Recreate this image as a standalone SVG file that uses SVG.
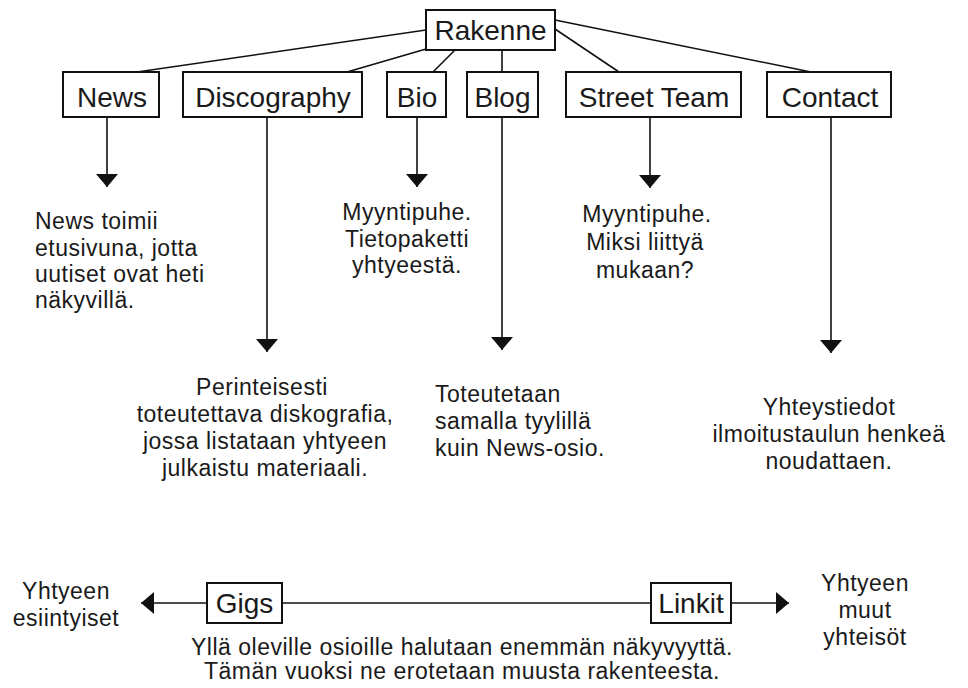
<svg xmlns="http://www.w3.org/2000/svg" width="968" height="688" viewBox="0 0 968 688">
  <style>
    .box { fill: #ffffff; stroke: #111111; stroke-width: 2; }
    .lbl { font-family: "Liberation Sans", Arial, sans-serif; font-size: 28px; fill: #1a1a1a; text-anchor: middle; }
    .desc { font-family: "Liberation Sans", Arial, sans-serif; font-size: 23px; fill: #1a1a1a; letter-spacing: 0.5px; }
    .mid { text-anchor: middle; }
    .conn { stroke: #111111; stroke-width: 1.6; fill: none; }
  </style>
  <defs>
    <marker id="arrow" viewBox="0 0 13 22" refX="13" refY="11" markerWidth="13" markerHeight="22" markerUnits="userSpaceOnUse" orient="auto">
      <path d="M0,0 L13,11 L0,22 Z" fill="#111111"/>
    </marker>
  </defs>
  <rect width="968" height="688" fill="#ffffff"/>

  <g id="connectors">
    <line class="conn" x1="426" y1="30" x2="137" y2="72"/>
    <line class="conn" x1="426" y1="49" x2="347" y2="72"/>
    <line class="conn" x1="455" y1="50" x2="433" y2="72"/>
    <line class="conn" x1="502" y1="50" x2="502" y2="72"/>
    <line class="conn" x1="555" y1="29" x2="619" y2="72"/>
    <line class="conn" x1="555" y1="20" x2="811" y2="72"/>

    <line class="conn" x1="107" y1="117" x2="107" y2="187" marker-end="url(#arrow)"/>
    <line class="conn" x1="267" y1="117" x2="267" y2="352" marker-end="url(#arrow)"/>
    <line class="conn" x1="417" y1="117" x2="417" y2="187" marker-end="url(#arrow)"/>
    <line class="conn" x1="502" y1="117" x2="502" y2="350" marker-end="url(#arrow)"/>
    <line class="conn" x1="650" y1="117" x2="650" y2="188" marker-end="url(#arrow)"/>
    <line class="conn" x1="831" y1="117" x2="831" y2="353" marker-end="url(#arrow)"/>

    <line class="conn" x1="207" y1="603" x2="141" y2="603" marker-end="url(#arrow)"/>
    <line class="conn" x1="282" y1="603" x2="651" y2="603"/>
    <line class="conn" x1="731" y1="603" x2="789" y2="603" marker-end="url(#arrow)"/>
  </g>

  <g id="rakenne">
    <rect class="box" x="426" y="10" width="129" height="40"/>
    <text class="lbl" x="490.5" y="40">Rakenne</text>
  </g>
  <g id="news">
    <rect class="box" x="63" y="72" width="96" height="45"/>
    <text class="lbl" x="112" y="107">News</text>
  </g>
  <g id="discography">
    <rect class="box" x="183" y="72" width="179" height="45"/>
    <text class="lbl" x="273" y="107">Discography</text>
  </g>
  <g id="bio">
    <rect class="box" x="387" y="72" width="59" height="45"/>
    <text class="lbl" x="417" y="107">Bio</text>
  </g>
  <g id="blog">
    <rect class="box" x="467" y="72" width="71" height="45"/>
    <text class="lbl" x="502.5" y="107">Blog</text>
  </g>
  <g id="street-team">
    <rect class="box" x="566" y="72" width="175" height="45"/>
    <text class="lbl" x="654" y="107">Street Team</text>
  </g>
  <g id="contact">
    <rect class="box" x="767" y="72" width="124" height="45"/>
    <text class="lbl" x="830" y="107">Contact</text>
  </g>
  <g id="gigs">
    <rect class="box" x="207" y="583" width="75" height="40"/>
    <text class="lbl" x="244.5" y="613">Gigs</text>
  </g>
  <g id="linkit">
    <rect class="box" x="651" y="583" width="80" height="40"/>
    <text class="lbl" x="691" y="613">Linkit</text>
  </g>

  <g id="news-desc">
    <text class="desc" x="35" y="229">News toimii</text>
    <text class="desc" x="35" y="256">etusivuna, jotta</text>
    <text class="desc" x="35" y="282">uutiset ovat heti</text>
    <text class="desc" x="35" y="308">näkyvillä.</text>
  </g>
  <g id="bio-desc">
    <text class="desc mid" x="407" y="220">Myyntipuhe.</text>
    <text class="desc mid" x="407" y="247">Tietopaketti</text>
    <text class="desc mid" x="407" y="273">yhtyeestä.</text>
  </g>
  <g id="street-desc">
    <text class="desc mid" x="647" y="222">Myyntipuhe.</text>
    <text class="desc mid" x="645" y="250">Miksi liittyä</text>
    <text class="desc mid" x="645" y="278">mukaan?</text>
  </g>
  <g id="discography-desc">
    <text class="desc mid" x="262" y="395">Perinteisesti</text>
    <text class="desc mid" x="265" y="422">toteutettava diskografia,</text>
    <text class="desc mid" x="265" y="449">jossa listataan yhtyeen</text>
    <text class="desc mid" x="265" y="476">julkaistu materiaali.</text>
  </g>
  <g id="blog-desc">
    <text class="desc" x="435" y="402">Toteutetaan</text>
    <text class="desc" x="435" y="429">samalla tyylillä</text>
    <text class="desc" x="435" y="456">kuin News-osio.</text>
  </g>
  <g id="contact-desc">
    <text class="desc mid" x="829" y="415">Yhteystiedot</text>
    <text class="desc mid" x="829" y="442">ilmoitustaulun henkeä</text>
    <text class="desc mid" x="829" y="469">noudattaen.</text>
  </g>
  <g id="gigs-desc">
    <text class="desc mid" x="66" y="599">Yhtyeen</text>
    <text class="desc mid" x="66" y="626">esiintyiset</text>
  </g>
  <g id="linkit-desc">
    <text class="desc mid" x="865" y="591">Yhtyeen</text>
    <text class="desc mid" x="865" y="618">muut</text>
    <text class="desc mid" x="865" y="645">yhteisöt</text>
  </g>
  <g id="note">
    <text class="desc mid" x="462" y="655">Yllä oleville osioille halutaan enemmän näkyvyyttä.</text>
    <text class="desc mid" x="462" y="679">Tämän vuoksi ne erotetaan muusta rakenteesta.</text>
  </g>
</svg>
